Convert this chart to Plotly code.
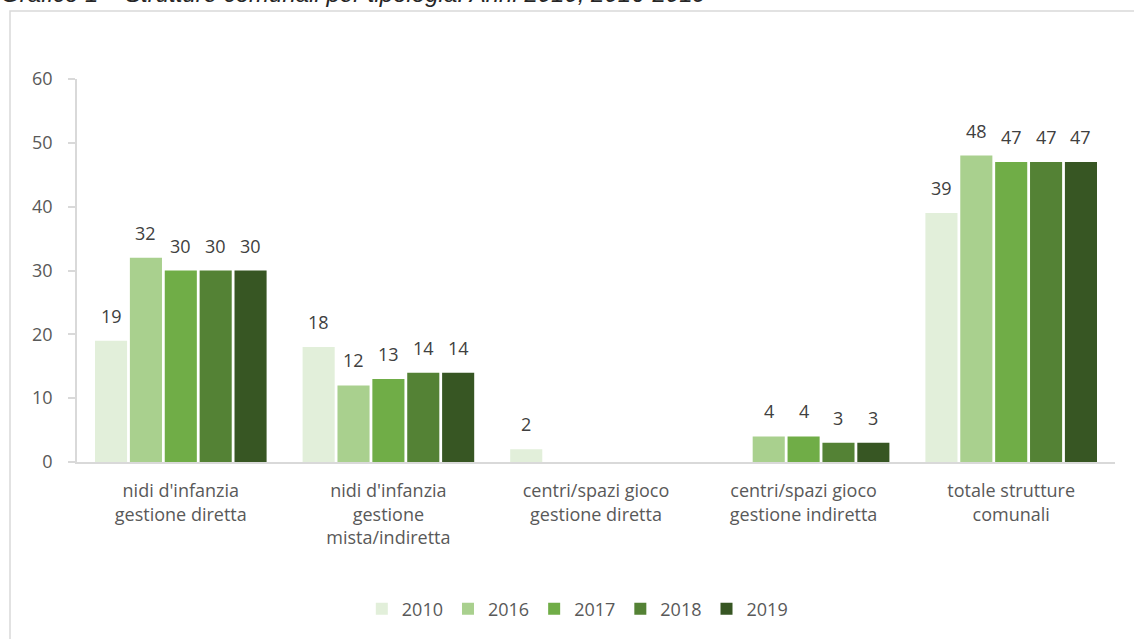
import plotly.graph_objects as go

# Categories of municipal childcare facilities
categories = [
    "nidi d'infanzia<br>gestione diretta",
    "nidi d'infanzia<br>gestione<br>mista/indiretta",
    "centri/spazi gioco<br>gestione diretta",
    "centri/spazi gioco<br>gestione indiretta",
    "totale strutture<br>comunali",
]

years = ["2010", "2016", "2017", "2018", "2019"]

# Number of facilities per year (None = no facility)
v2010 = [19, 18, 2, None, 39]
v2016 = [32, 12, None, 4, 48]
v2017 = [30, 13, None, 4, 47]
v2018 = [30, 14, None, 3, 47]
v2019 = [30, 14, None, 3, 47]

series = [v2010, v2016, v2017, v2018, v2019]
colors = ["#e2efda", "#a9d08e", "#70ad47", "#548235", "#375623"]

FONT = "Open Sans"
W, H = 1134, 639
ML, MR, MT, MB = 77, 19, 79, 177
PW, PH = W - ML - MR, H - MT - MB
BARGAP = 0.16
N = len(years)

fig = go.Figure()
for year, vals, col in zip(years, series, colors):
    fig.add_trace(go.Bar(
        name=year,
        x=categories,
        y=vals,
        marker=dict(color=col, line=dict(width=0)),
        hoverinfo="x+y+name",
    ))

# Value labels above each bar, shifted horizontally to their slot in the group
slot_px = PW / len(categories) * (1 - BARGAP) / N
annotations = []
for i, vals in enumerate(series):
    for cat, v in zip(categories, vals):
        if v is None:
            continue
        annotations.append(dict(
            x=cat, y=v, xref="x", yref="y",
            text=str(v), showarrow=False,
            xanchor="center", yanchor="middle",
            xshift=(i - (N - 1) / 2) * slot_px,
            yshift=25,
            font=dict(family=FONT, size=18, color="#404040"),
        ))


def px_x(p):
    return (p - ML) / PW


def px_y(p):
    return (H - MB - p) / PH


annotations.append(dict(
    text="<i>Grafico 1 – Strutture comunali per tipologia. Anni 2010, 2016-2019</i>",
    xref="paper", yref="paper",
    x=px_x(-1), xanchor="left",
    y=px_y(9), yanchor="bottom",
    showarrow=False,
    font=dict(family="Liberation Sans", size=24, color="#262626"),
))

fig.update_layout(
    width=W,
    height=H,
    margin=dict(l=ML, r=MR, t=MT, b=MB),
    paper_bgcolor="white",
    plot_bgcolor="white",
    barmode="group",
    bargap=BARGAP,
    bargroupgap=0.08,
    font=dict(family=FONT, size=18, color="#595959"),
    showlegend=True,
    legend=dict(
        orientation="h",
        x=0.482, xanchor="center",
        y=px_y(609), yanchor="middle",
        font=dict(family=FONT, size=18, color="#595959"),
        itemwidth=30,
        tracegroupgap=0,
    ),
    xaxis=dict(
        showline=True, linecolor="#d9d9d9", linewidth=1.5,
        ticks="", showgrid=False,
        tickfont=dict(family=FONT, size=18, color="#595959"),
        ticklabelstandoff=12,
    ),
    yaxis=dict(
        range=[0, 60], dtick=10,
        showline=True, linecolor="#d9d9d9", linewidth=1.5,
        ticks="outside", ticklen=7, tickcolor="#d9d9d9", tickwidth=1.5,
        showgrid=False, zeroline=False,
        tickfont=dict(family=FONT, size=18, color="#595959"),
        ticklabelstandoff=12,
    ),
    shapes=[
        dict(
            type="rect", xref="paper", yref="paper",
            x0=px_x(10), x1=px_x(W + 20),
            y0=px_y(H + 20), y1=px_y(11),
            line=dict(color="#d9d9d9", width=1.5),
            fillcolor="rgba(0,0,0,0)",
            layer="below",
        )
    ],
    annotations=annotations,
)

fig.write_html("out.html")
